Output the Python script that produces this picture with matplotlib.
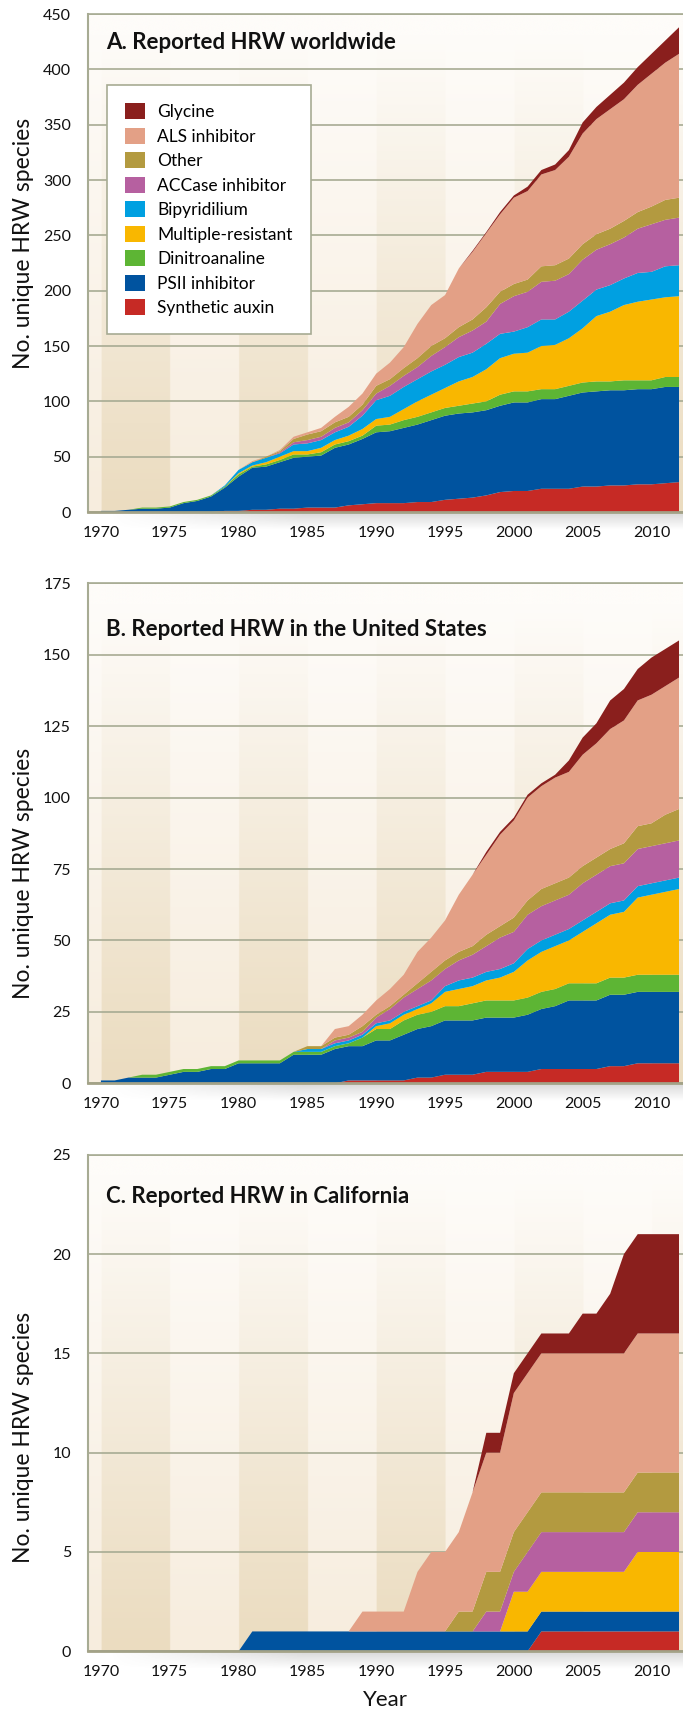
import numpy as np
import matplotlib
matplotlib.use('Agg')
import matplotlib.pyplot as plt
from matplotlib.patches import Patch

plt.rcParams['font.family'] = ['Lato', 'DejaVu Sans']

years = list(range(1970, 2013))

series_names = ['Synthetic auxin', 'PSII inhibitor', 'Dinitroanaline', 'Multiple-resistant',
                'Bipyridilium', 'ACCase inhibitor', 'Other', 'ALS inhibitor', 'Glycine']
series_colors = ['#c62a25', '#00539f', '#5db534', '#f9b700', '#00a0e1',
                 '#b660a0', '#b39a40', '#e3a086', '#8a1f1d']

# ---------------- A. worldwide ----------------
a_auxin = [0, 0, 0, 0, 0, 0, 0, 0, 0, 1, 1, 2, 2, 3, 3, 4, 4, 4, 6, 7, 8, 8, 8, 9, 9, 11,
           12, 13, 15, 18, 19, 19, 21, 21, 21, 23, 23, 24, 24, 25, 25, 26, 27]
a_psii = [1, 1, 2, 3, 3, 4, 8, 10, 14, 21, 31, 38, 39, 42, 46, 46, 47, 54, 55, 59, 64, 65,
          68, 70, 74, 76, 77, 77, 77, 78, 80, 80, 81, 81, 84, 85, 86, 86, 86, 86, 86, 87, 86]
a_dinit = [0, 0, 0, 1, 1, 1, 1, 1, 1, 1, 2, 1, 2, 2, 3, 2, 3, 3, 3, 3, 6, 6, 7, 7, 7, 7,
           7, 8, 8, 10, 10, 10, 9, 9, 9, 9, 9, 8, 9, 8, 8, 9, 9]
a_mult = [0, 0, 0, 0, 0, 0, 0, 0, 0, 0, 1, 1, 2, 3, 3, 3, 4, 4, 5, 6, 6, 7, 10, 14, 16, 18,
          22, 24, 29, 33, 34, 35, 39, 40, 43, 49, 59, 63, 68, 71, 73, 72, 73]
a_bipy = [0, 0, 0, 0, 0, 0, 0, 0, 0, 1, 3, 3, 4, 3, 6, 7, 7, 7, 8, 12, 17, 19, 20, 20, 21,
          21, 22, 22, 23, 22, 20, 23, 24, 23, 24, 25, 24, 24, 24, 26, 25, 28, 28]
a_accase = [0, 0, 0, 0, 0, 0, 0, 0, 0, 0, 0, 0, 0, 1, 2, 3, 3, 4, 4, 5, 6, 9, 10, 11, 14,
            16, 18, 20, 20, 27, 32, 32, 34, 35, 34, 37, 36, 37, 37, 40, 43, 42, 43]
a_other = [0, 0, 0, 0, 0, 0, 0, 0, 0, 0, 0, 0, 1, 1, 3, 5, 5, 5, 5, 5, 7, 6, 7, 8, 9, 8, 9,
           10, 13, 11, 11, 11, 14, 14, 14, 14, 14, 14, 15, 15, 16, 18, 18]
a_als = [0, 0, 0, 0, 0, 0, 0, 0, 0, 0, 0, 1, 0, 1, 2, 2, 3, 5, 9, 10, 11, 15, 19, 31, 37,
         39, 53, 61, 67, 70, 78, 80, 83, 86, 92, 100, 104, 108, 110, 115, 120, 124, 130]
a_glycine = [0, 0, 0, 0, 0, 0, 0, 0, 0, 0, 0, 0, 0, 0, 0, 0, 0, 0, 0, 0, 0, 0, 0, 0, 0, 0,
             0, 1, 1, 2, 2, 4, 4, 5, 6, 10, 11, 13, 15, 16, 18, 20, 24]

# ---------------- B. United States ----------------
b_auxin = [0, 0, 0, 0, 0, 0, 0, 0, 0, 0, 0, 0, 0, 0, 0, 0, 0, 0, 1, 1, 1, 1, 1, 2, 2, 3,
           3, 3, 4, 4, 4, 4, 5, 5, 5, 5, 5, 6, 6, 7, 7, 7, 7]
b_psii = [1, 1, 2, 2, 2, 3, 4, 4, 5, 5, 7, 7, 7, 7, 10, 10, 10, 12, 12, 12, 14, 14, 16, 17,
          18, 19, 19, 19, 19, 19, 19, 20, 21, 22, 24, 24, 24, 25, 25, 25, 25, 25, 25]
b_dinit = [0, 0, 0, 1, 1, 1, 1, 1, 1, 1, 1, 1, 1, 1, 1, 1, 1, 1, 1, 3, 4, 4, 5, 5, 5, 5,
           5, 6, 6, 6, 6, 6, 6, 6, 6, 6, 6, 6, 6, 6, 6, 6, 6]
b_mult = [0, 0, 0, 0, 0, 0, 0, 0, 0, 0, 0, 0, 0, 0, 0, 0, 0, 0, 0, 0, 1, 2, 2, 2, 3, 5, 6,
          6, 7, 8, 10, 13, 14, 15, 15, 18, 21, 22, 23, 27, 28, 29, 30]
b_bipy = [0, 0, 0, 0, 0, 0, 0, 0, 0, 0, 0, 0, 0, 0, 0, 1, 1, 1, 1, 1, 1, 1, 1, 1, 1, 2, 3,
          3, 3, 3, 3, 4, 4, 4, 4, 4, 4, 4, 4, 4, 4, 4, 4]
b_accase = [0, 0, 0, 0, 0, 0, 0, 0, 0, 0, 0, 0, 0, 0, 0, 0, 0, 1, 1, 1, 2, 4, 5, 6, 7, 6,
            7, 8, 9, 11, 11, 12, 12, 12, 12, 13, 13, 13, 13, 13, 13, 13, 13]
b_other = [0, 0, 0, 0, 0, 0, 0, 0, 0, 0, 0, 0, 0, 0, 0, 1, 1, 1, 1, 2, 1, 1, 1, 2, 3, 3, 3,
           3, 4, 4, 5, 5, 6, 6, 6, 6, 6, 6, 7, 8, 8, 10, 11]
b_als = [0, 0, 0, 0, 0, 0, 0, 0, 0, 0, 0, 0, 0, 0, 0, 0, 0, 3, 3, 4, 5, 6, 7, 11, 12, 14,
         20, 25, 28, 32, 34, 36, 36, 37, 37, 39, 40, 42, 43, 44, 45, 45, 46]
b_glycine = [0, 0, 0, 0, 0, 0, 0, 0, 0, 0, 0, 0, 0, 0, 0, 0, 0, 0, 0, 0, 0, 0, 0, 0, 0, 0,
             0, 0, 1, 1, 1, 1, 1, 1, 4, 6, 7, 10, 11, 11, 13, 13, 13]

# ---------------- C. California ----------------
c_auxin = [0, 0, 0, 0, 0, 0, 0, 0, 0, 0, 0, 0, 0, 0, 0, 0, 0, 0, 0, 0, 0, 0, 0, 0, 0, 0,
           0, 0, 0, 0, 0, 0, 1, 1, 1, 1, 1, 1, 1, 1, 1, 1, 1]
c_psii = [0, 0, 0, 0, 0, 0, 0, 0, 0, 0, 0, 1, 1, 1, 1, 1, 1, 1, 1, 1, 1, 1, 1, 1, 1, 1, 1,
          1, 1, 1, 1, 1, 1, 1, 1, 1, 1, 1, 1, 1, 1, 1, 1]
c_dinit = [0, 0, 0, 0, 0, 0, 0, 0, 0, 0, 0, 0, 0, 0, 0, 0, 0, 0, 0, 0, 0, 0, 0, 0, 0, 0,
           0, 0, 0, 0, 0, 0, 0, 0, 0, 0, 0, 0, 0, 0, 0, 0, 0]
c_mult = [0, 0, 0, 0, 0, 0, 0, 0, 0, 0, 0, 0, 0, 0, 0, 0, 0, 0, 0, 0, 0, 0, 0, 0, 0, 0, 0,
          0, 0, 0, 2, 2, 2, 2, 2, 2, 2, 2, 2, 3, 3, 3, 3]
c_bipy = [0, 0, 0, 0, 0, 0, 0, 0, 0, 0, 0, 0, 0, 0, 0, 0, 0, 0, 0, 0, 0, 0, 0, 0, 0, 0, 0,
          0, 0, 0, 0, 0, 0, 0, 0, 0, 0, 0, 0, 0, 0, 0, 0]
c_accase = [0, 0, 0, 0, 0, 0, 0, 0, 0, 0, 0, 0, 0, 0, 0, 0, 0, 0, 0, 0, 0, 0, 0, 0, 0, 0,
            0, 0, 1, 1, 1, 2, 2, 2, 2, 2, 2, 2, 2, 2, 2, 2, 2]
c_other = [0, 0, 0, 0, 0, 0, 0, 0, 0, 0, 0, 0, 0, 0, 0, 0, 0, 0, 0, 0, 0, 0, 0, 0, 0, 0, 1,
           1, 2, 2, 2, 2, 2, 2, 2, 2, 2, 2, 2, 2, 2, 2, 2]
c_als = [0, 0, 0, 0, 0, 0, 0, 0, 0, 0, 0, 0, 0, 0, 0, 0, 0, 0, 0, 1, 1, 1, 1, 3, 4, 4, 4, 6,
         6, 6, 7, 7, 7, 7, 7, 7, 7, 7, 7, 7, 7, 7, 7]
c_glycine = [0, 0, 0, 0, 0, 0, 0, 0, 0, 0, 0, 0, 0, 0, 0, 0, 0, 0, 0, 0, 0, 0, 0, 0, 0, 0,
             0, 0, 1, 1, 1, 1, 1, 1, 1, 2, 2, 3, 5, 5, 5, 5, 5]

panel_titles = ['A. Reported HRW worldwide', 'B. Reported HRW in the United States',
                'C. Reported HRW in California']
panel_ymax = [450, 175, 25]
panel_ystep = [50, 25, 5]
xtick_years = [1970, 1975, 1980, 1985, 1990, 1995, 2000, 2005, 2010]

panels = [
    [a_auxin, a_psii, a_dinit, a_mult, a_bipy, a_accase, a_other, a_als, a_glycine],
    [b_auxin, b_psii, b_dinit, b_mult, b_bipy, b_accase, b_other, b_als, b_glycine],
    [c_auxin, c_psii, c_dinit, c_mult, c_bipy, c_accase, c_other, c_als, c_glycine],
]

W, H = 683, 1716
fig = plt.figure(figsize=(W / 100, H / 100), dpi=100)

ax_left = 87.7
ax_right = 683.0
# (top px, bottom px)
panel_px = [(14.0, 512.0), (583.3, 1083.3), (1154.7, 1651.3)]
title_base = [0.929, 0.8946, 0.9037]
ylabel_center = [0.54, 0.42, 0.43]

XMIN, XMAX = 1969.04, 2012.29
grid_col = '#a7ab93'

dark_rgb = np.array([235, 220, 192]) / 255.0
light_rgb = np.array([247, 237, 222]) / 255.0
white_rgb = np.array([254, 252, 249]) / 255.0


def draw_background(ax, ymax):
    xs = np.linspace(XMIN, XMAX, 1400)
    band = np.floor((xs - 1970) / 5)
    dark = (xs >= 1970) & (band % 2 == 0)
    base = np.where(dark[:, None], dark_rgb[None, :], light_rgb[None, :])
    t = np.linspace(0, 1, 300)[:, None, None]
    w = np.clip(t ** 1.1 * 1.05, 0, 1)
    img = base[None, :, :] * (1 - w) + white_rgb[None, None, :] * w
    ax.imshow(img, extent=(XMIN, XMAX, 0, ymax), origin='lower', aspect='auto',
              zorder=-2, interpolation='bilinear')


for i, series in enumerate(panels):
    top, bot = panel_px[i]
    # shadow below the axis
    sh_h = 18
    shax = fig.add_axes([(ax_left + 20) / W, 1 - (bot + sh_h) / H, (ax_right - ax_left - 20) / W, sh_h / H])
    shax.axis('off')
    g = np.linspace(0.28, 0.0, 50)[:, None] * np.clip(np.linspace(0, 3, 200), 0, 1)[None, :]
    rgba = np.zeros((50, 200, 4))
    rgba[..., :3] = 0.45
    rgba[..., 3] = g
    shax.imshow(rgba, aspect='auto', extent=(0, 1, 0, 1), origin='upper', interpolation='bilinear')

    ax = fig.add_axes([ax_left / W, 1 - bot / H, (ax_right - ax_left) / W, (bot - top) / H])
    ymax = panel_ymax[i]
    draw_background(ax, ymax)
    polys = ax.stackplot(years, *series, colors=series_colors, zorder=2, linewidth=0)
    ax.set_xlim(XMIN, XMAX)
    ax.set_ylim(0, ymax)
    ax.set_xticks(xtick_years)
    ax.set_yticks(list(range(0, ymax + 1, panel_ystep[i])))
    ax.set_axisbelow(True)
    ax.grid(axis='y', color=grid_col, linewidth=1.2, zorder=0)
    ax.grid(axis='x', visible=False)
    ax.tick_params(axis='both', length=0, labelsize=11.5, colors='#111111')
    ax.tick_params(axis='y', pad=12)
    ax.tick_params(axis='x', pad=10)
    ax.spines['right'].set_visible(False)
    ax.spines['top'].set_color(grid_col)
    ax.spines['top'].set_linewidth(1.2)
    ax.spines['left'].set_color(grid_col)
    ax.spines['left'].set_linewidth(1.5)
    ax.spines['bottom'].set_color('#a3a287')
    ax.spines['bottom'].set_linewidth(2.0)
    ax.set_ylabel('No. unique HRW species', fontsize=16.5, color='#111111')
    ax.yaxis.set_label_coords(-53.7 / (ax_right - ax_left), ylabel_center[i])
    ax.text((106 - ax_left) / (ax_right - ax_left), title_base[i], panel_titles[i],
            transform=ax.transAxes, fontsize=16, fontweight='bold', color='#111111',
            va='baseline', ha='left', zorder=5)
    if i == 0:
        handles = [Patch(facecolor=c, edgecolor='none', label=n)
                   for n, c in zip(series_names[::-1], series_colors[::-1])]
        leg = ax.legend(handles=handles, loc='upper left',
                        bbox_to_anchor=((107 - ax_left) / (ax_right - ax_left), (bot - 85) / (bot - top)),
                        borderaxespad=0, fontsize=12.5, frameon=True, fancybox=False,
                        edgecolor=grid_col, facecolor='white', framealpha=1,
                        borderpad=1.05, labelspacing=0.44, handlelength=1.15,
                        handleheight=1.03, handletextpad=0.69)
        leg.get_frame().set_linewidth(1.2)
        leg.set_zorder(6)
    if i == 2:
        ax.set_xlabel('Year', fontsize=16, color='#111111', labelpad=8)

fig.savefig('out.png', dpi=100, facecolor='white')
